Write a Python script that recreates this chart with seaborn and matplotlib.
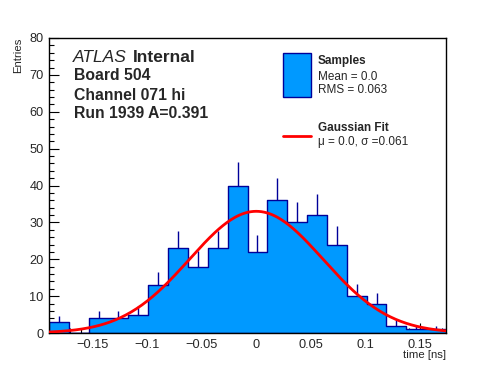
import numpy as np
import pandas as pd
import matplotlib
matplotlib.use("Agg")
import matplotlib.pyplot as plt
from matplotlib.ticker import MultipleLocator, FixedLocator
import seaborn as sns

# histogram contents (20 bins)
counts = [3, 0, 4, 4, 5, 13, 23, 18, 23, 40, 22, 36, 30, 32, 24, 10, 8, 2, 1, 1]
x_lo, x_hi = -0.1895, 0.1735

# fit parameters shown in the legend
fit_mu = 0.0
fit_sigma = 0.061
fit_amp = 33.0

x_ticks = [-0.15, -0.1, -0.05, 0.0, 0.05, 0.1, 0.15]
x_tick_labels = ["\u22120.15", "\u22120.1", "\u22120.05", "0", "0.05", "0.1", "0.15"]
y_ticks = [0, 10, 20, 30, 40, 50, 60, 70, 80]

info_lines = ["Board 504", "Channel 071 hi", "Run 1939 A=0.391"]

fill_col = "#0099ff"
edge_col = "#000099"

sns.set_style("ticks")
plt.rcParams["font.family"] = ["Liberation Sans", "DejaVu Sans"]

W, H = 496, 372
fig = plt.figure(figsize=(W / 100, H / 100), dpi=100)
ax = fig.add_axes([49 / W, 1 - 333 / H, (446 - 49) / W, (333 - 38) / H])

counts = np.array(counts, dtype=float)
edges = np.linspace(x_lo, x_hi, len(counts) + 1)
centers = 0.5 * (edges[:-1] + edges[1:])
df = pd.DataFrame({"t": centers, "n": counts})

# histogram
sns.histplot(data=df, x="t", weights="n", bins=list(edges), element="step", fill=True,
             color=fill_col, edgecolor=edge_col, linewidth=1.0, alpha=1.0, ax=ax)

# statistical errors (upper half visible above fill)
m = counts > 0
ax.vlines(centers[m], counts[m], counts[m] + np.sqrt(counts[m]),
          color=edge_col, linewidth=1.0, zorder=3)

# gaussian fit curve
xs = np.linspace(x_lo, x_hi, 300)
ys = fit_amp * np.exp(-0.5 * ((xs - fit_mu) / fit_sigma) ** 2)
sns.lineplot(x=xs, y=ys, color="red", linewidth=2.0, ax=ax, zorder=4)

ax.set_xlim(x_lo, x_hi)
ax.set_ylim(0, 80)
ax.xaxis.set_major_locator(FixedLocator(x_ticks))
ax.set_xticklabels(x_tick_labels)
ax.xaxis.set_minor_locator(MultipleLocator(0.01))
ax.set_yticks(y_ticks)
ax.yaxis.set_minor_locator(MultipleLocator(2))
ax.tick_params(which="both", direction="in", top=False, right=False,
               labelsize=9.2, width=0.8, color="black", pad=4)
ax.tick_params(which="major", length=7)
ax.tick_params(which="minor", length=3.5)
for s in ax.spines.values():
    s.set_visible(True)
    s.set_color("black")
    s.set_linewidth(1.0)
ax.set_xlabel("")
ax.set_ylabel("")

fig.text(18 / W, 1 - 38 / H, "Entries", rotation=90, ha="center", va="top", fontsize=8.2)
fig.text(446 / W, 1 - 355 / H, "time [ns]", ha="right", va="center", fontsize=8.2)

# ATLAS label block
fig.text(73 / W, 1 - 57.5 / H, "ATLAS", style="italic", fontsize=12.5, va="center")
fig.text(133 / W, 1 - 57.5 / H, "Internal", weight="bold", fontsize=12.5, va="center")
for i, line in enumerate(info_lines):
    fig.text(74 / W, 1 - (76 + 19 * i) / H, line, weight="bold", fontsize=11.3, va="center")

# legend drawn by hand, ROOT style
leg_box = plt.Rectangle((283 / W, 1 - 97 / H), 28 / W, 44 / H, transform=fig.transFigure,
                        facecolor=fill_col, edgecolor=edge_col, linewidth=1.0)
fig.add_artist(leg_box)
fig.text(318 / W, 1 - 61 / H, "Samples", weight="bold", fontsize=8.5, va="center")
fig.text(318 / W, 1 - 77 / H, "Mean = 0.0", fontsize=8.5, va="center")
fig.text(318 / W, 1 - 90 / H, "RMS = 0.063", fontsize=8.5, va="center")
fig.add_artist(plt.Line2D([283 / W, 311 / W], [1 - 136 / H, 1 - 136 / H],
                          transform=fig.transFigure, color="red", linewidth=2.0))
fig.text(318 / W, 1 - 128 / H, "Gaussian Fit", weight="bold", fontsize=8.5, va="center")
fig.text(318 / W, 1 - 142 / H, "\u03bc = 0.0, \u03c3 =0.061", fontsize=8.5, va="center")

fig.savefig("out.png", dpi=100, facecolor="white")
